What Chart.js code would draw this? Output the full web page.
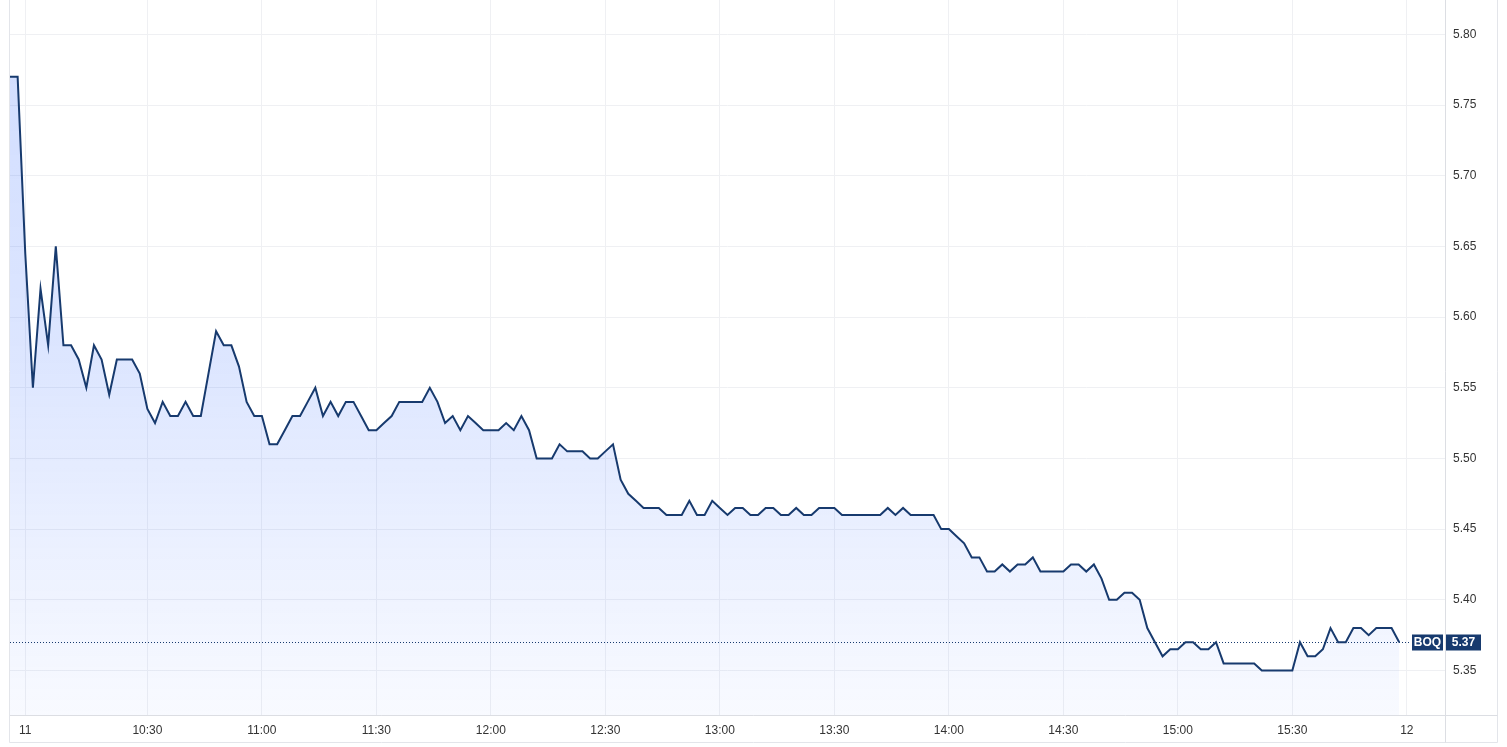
<!DOCTYPE html>
<html lang="en">
<head>
    <meta charset="UTF-8">
    <title>BOQ intraday</title>
    <script src="https://cdn.jsdelivr.net/npm/chart.js@4.4.0/dist/chart.umd.min.js"></script>
    <style>
        body{
            margin: 0;
            background-color: #ffffff;
        }
        .wrap{
            width: 1507px;
            height: 747px;
        }
    </style>
</head>
<body>
    <div class="wrap">
        <canvas id="miCanvas" width="1507" height="747"></canvas>
    </div>
    <script>
        // 2 minute bars, 09:54 -> 16:10 (axis runs a bit past the last trade)
        const times = (
            "09:54 09:56 09:58 " +
            "10:00 10:02 10:04 10:06 10:08 10:10 10:12 10:14 10:16 10:18 10:20 10:22 10:24 10:26 10:28 " +
            "10:30 10:32 10:34 10:36 10:38 10:40 10:42 10:44 10:46 10:48 10:50 10:52 10:54 10:56 10:58 " +
            "11:00 11:02 11:04 11:06 11:08 11:10 11:12 11:14 11:16 11:18 11:20 11:22 11:24 11:26 11:28 " +
            "11:30 11:32 11:34 11:36 11:38 11:40 11:42 11:44 11:46 11:48 11:50 11:52 11:54 11:56 11:58 " +
            "12:00 12:02 12:04 12:06 12:08 12:10 12:12 12:14 12:16 12:18 12:20 12:22 12:24 12:26 12:28 " +
            "12:30 12:32 12:34 12:36 12:38 12:40 12:42 12:44 12:46 12:48 12:50 12:52 12:54 12:56 12:58 " +
            "13:00 13:02 13:04 13:06 13:08 13:10 13:12 13:14 13:16 13:18 13:20 13:22 13:24 13:26 13:28 " +
            "13:30 13:32 13:34 13:36 13:38 13:40 13:42 13:44 13:46 13:48 13:50 13:52 13:54 13:56 13:58 " +
            "14:00 14:02 14:04 14:06 14:08 14:10 14:12 14:14 14:16 14:18 14:20 14:22 14:24 14:26 14:28 " +
            "14:30 14:32 14:34 14:36 14:38 14:40 14:42 14:44 14:46 14:48 14:50 14:52 14:54 14:56 14:58 " +
            "15:00 15:02 15:04 15:06 15:08 15:10 15:12 15:14 15:16 15:18 15:20 15:22 15:24 15:26 15:28 " +
            "15:30 15:32 15:34 15:36 15:38 15:40 15:42 15:44 15:46 15:48 15:50 15:52 15:54 15:56 15:58 " +
            "16:00 16:02 16:04 16:06 16:08 16:10"
        ).split(" ");

        const prices = [
            5.77, 5.77, 5.645, 5.55, 5.62, 5.58, 5.65, 5.58, 5.58, 5.57,
            5.55, 5.58, 5.57, 5.545, 5.57, 5.57, 5.57, 5.56, 5.535, 5.525,
            5.54, 5.53, 5.53, 5.54, 5.53, 5.53, 5.56, 5.59, 5.58, 5.58,
            5.565, 5.54, 5.53, 5.53, 5.51, 5.51, 5.52, 5.53, 5.53, 5.54,
            5.55, 5.53, 5.54, 5.53, 5.54, 5.54, 5.53, 5.52, 5.52, 5.525,
            5.53, 5.54, 5.54, 5.54, 5.54, 5.55, 5.54, 5.525, 5.53, 5.52,
            5.53, 5.525, 5.52, 5.52, 5.52, 5.525, 5.52, 5.53, 5.52, 5.50,
            5.50, 5.50, 5.51, 5.505, 5.505, 5.505, 5.50, 5.50, 5.505, 5.51,
            5.485, 5.475, 5.47, 5.465, 5.465, 5.465, 5.46, 5.46, 5.46, 5.47,
            5.46, 5.46, 5.47, 5.465, 5.46, 5.465, 5.465, 5.46, 5.46, 5.465,
            5.465, 5.46, 5.46, 5.465, 5.46, 5.46, 5.465, 5.465, 5.465, 5.46,
            5.46, 5.46, 5.46, 5.46, 5.46, 5.465, 5.46, 5.465, 5.46, 5.46,
            5.46, 5.46, 5.45, 5.45, 5.445, 5.44, 5.43, 5.43, 5.42, 5.42,
            5.425, 5.42, 5.425, 5.425, 5.43, 5.42, 5.42, 5.42, 5.42, 5.425,
            5.425, 5.42, 5.425, 5.415, 5.40, 5.40, 5.405, 5.405, 5.40, 5.38,
            5.37, 5.36, 5.365, 5.365, 5.37, 5.37, 5.365, 5.365, 5.37, 5.355,
            5.355, 5.355, 5.355, 5.355, 5.35, 5.35, 5.35, 5.35, 5.35, 5.37,
            5.36, 5.36, 5.365, 5.38, 5.37, 5.37, 5.38, 5.38, 5.375, 5.38,
            5.38, 5.38, 5.37
        ];

        // which bar gets a time label, and what it says
        const tickTimes = ["09:58", "10:30", "11:00", "11:30", "12:00", "12:30", "13:00",
                           "13:30", "14:00", "14:30", "15:00", "15:30", "16:00"];
        const tickText  = ["11", "10:30", "11:00", "11:30", "12:00", "12:30", "13:00",
                           "13:30", "14:00", "14:30", "15:00", "15:30", "12"];

        const symbol = "BOQ";
        const lineCol = "#173a6e";

        // frame, last price line and the two price tags on the right
        const framePlugin = {
            id: "frame",
            afterDraw(chart){
                const c = chart.ctx;
                const a = chart.chartArea;
                c.save();
                c.lineWidth = 1;
                c.strokeStyle = "#e3e5ea";
                c.beginPath();
                c.moveTo(9.5, 0); c.lineTo(9.5, 742.5);
                c.moveTo(9.5, 742.5); c.lineTo(1497.5, 742.5);
                c.moveTo(1497.5, 0); c.lineTo(1497.5, 742.5);
                c.stroke();
                c.strokeStyle = "#dcdee3";
                c.beginPath();
                c.moveTo(a.left, a.bottom - 0.5); c.lineTo(1497.5, a.bottom - 0.5);
                c.moveTo(a.right + 0.5, 0); c.lineTo(a.right + 0.5, 742.5);
                c.stroke();

                const last = prices[prices.length - 1];
                const y = Math.round(chart.scales.y.getPixelForValue(last)) + 0.5;
                c.strokeStyle = lineCol;
                c.setLineDash([1, 2]);
                c.beginPath();
                c.moveTo(a.left, y); c.lineTo(1411, y);
                c.stroke();
                c.setLineDash([]);

                c.fillStyle = lineCol;
                c.fillRect(1412, y - 8, 31, 16);
                c.fillRect(1446, y - 8, 35, 16);
                c.fillStyle = "#ffffff";
                c.font = "bold 12px 'Liberation Sans', Arial, sans-serif";
                c.textAlign = "center";
                c.textBaseline = "middle";
                c.fillText(symbol, 1427.5, y + 0.5);
                c.fillText(last.toFixed(2), 1463.5, y + 0.5);
                c.restore();
            }
        };

        const miCanvas = document.getElementById("miCanvas").getContext("2d");
        window.miCanva = new Chart(miCanvas, {
            type: "line",
            data: {
                labels: times,
                datasets: [{
                    label: symbol,
                    data: prices,
                    borderColor: lineCol,
                    borderWidth: 2,
                    pointRadius: 0,
                    tension: 0,
                    fill: "start",
                    backgroundColor: (ctx) => {
                        const area = ctx.chart.chartArea;
                        if(!area) return "rgba(41,98,255,0.15)";
                        const g = ctx.chart.ctx.createLinearGradient(0, area.top, 0, area.bottom);
                        g.addColorStop(0, "rgba(41,98,255,0.22)");
                        g.addColorStop(0.5, "rgba(41,98,255,0.16)");
                        g.addColorStop(1, "rgba(41,98,255,0.03)");
                        return g;
                    }
                }]
            },
            options: {
                responsive: false,
                animation: false,
                devicePixelRatio: 1,
                layout: { padding: { left: 10, right: 10, top: 0, bottom: 5 } },
                plugins: {
                    legend: { display: false },
                    tooltip: { enabled: false }
                },
                scales: {
                    x: {
                        type: "category",
                        offset: false,
                        afterFit: (s) => {
                            s.height = 26;
                            s.paddingLeft = 0;
                            s.paddingRight = 0;
                        },
                        border: { display: false },
                        grid: { color: "#eff0f3", drawTicks: false },
                        ticks: {
                            autoSkip: false,
                            maxRotation: 0,
                            padding: 7,
                            color: "#333333",
                            font: { family: "'Liberation Sans', Arial, sans-serif", size: 12 },
                            callback: function(value){
                                const k = tickTimes.indexOf(this.getLabelForValue(value));
                                return k >= 0 ? tickText[k] : null;
                            }
                        }
                    },
                    y: {
                        position: "right",
                        min: 5.3178,
                        max: 5.8243,
                        afterFit: (s) => {
                            s.width = 52;
                            s.paddingTop = 0;
                            s.paddingBottom = 0;
                        },
                        border: { display: false },
                        grid: { color: "#eff0f3", drawTicks: false },
                        ticks: {
                            stepSize: 0.05,
                            includeBounds: false,
                            padding: 8,
                            color: "#333333",
                            font: { family: "'Liberation Sans', Arial, sans-serif", size: 12 },
                            callback: (v) => v.toFixed(2)
                        }
                    }
                }
            },
            plugins: [framePlugin]
        });
    </script>
</body>
</html>
